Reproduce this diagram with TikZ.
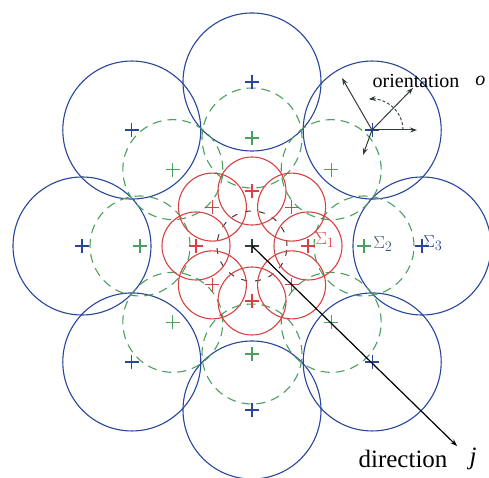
\documentclass[tikz,border=0pt]{standalone}
\usepackage{fontspec}
\setmainfont{Liberation Serif}
\usepackage{amsmath}
\usetikzlibrary{arrows.meta, calc, positioning}
\definecolor{sigblue}{RGB}{40,70,155}
\definecolor{siggreen}{RGB}{75,160,95}
\definecolor{sigred}{RGB}{215,65,65}
\definecolor{sigslate}{RGB}{60,85,115}
\definecolor{sigdark}{RGB}{50,60,60}

\begin{document}
\begin{tikzpicture}[x=1pt, y=1pt, >={Stealth[length=7pt, width=5pt]},
  bluering/.style={draw=sigblue, line width=1.1pt},
  greenring/.style={draw=siggreen, line width=1.1pt, dash pattern=on 9pt off 6pt},
  redring/.style={draw=sigred, line width=1.1pt},
  plus/.pic={\draw[line width=1.1pt] (-7,0) -- (7,0) (0,-7) -- (0,7);}]
  \useasboundingbox (-252,-232) rectangle (237,246);
  \coordinate (C) at (0,0);
  \coordinate (O) at (120,116);

  \foreach \a in {0,45,...,315} {
    \draw[bluering] ({170*cos(\a)},{164*sin(\a)}) circle (69pt);
  }
  \foreach \a in {0,45,...,315} {
    \draw[greenring] ({112*cos(\a)},{108*sin(\a)}) circle (50pt);
  }
  \draw[sigdark, line width=1pt, dash pattern=on 6pt off 8pt] (C) circle (35pt);
  \foreach \a in {0,45,...,315} {
    \draw[redring] ({56*cos(\a)},{55*sin(\a)}) circle (34pt);
  }

  \foreach \a in {0,45,...,315} {
    \pic[draw=sigblue] at ({170*cos(\a)},{164*sin(\a)}) {plus};
    \pic[draw=siggreen] at ({112*cos(\a)},{108*sin(\a)}) {plus};
    \pic[draw=sigred] at ({56*cos(\a)},{55*sin(\a)}) {plus};
  }
  \pic[draw=sigdark] at (C) {plus};

  \node[sigred, font=\fontsize{19}{22}\selectfont] (s1) at (73,6) {$\Sigma_1$};
  \node[sigslate, font=\fontsize{19}{22}\selectfont] (s2) at (131,2) {$\Sigma_2$};
  \node[sigblue, font=\fontsize{19}{22}\selectfont] (s3) at (181,3) {$\Sigma_3$};

  \coordinate (o1) at (165,116);
  \coordinate (o2) at (161,158);
  \coordinate (o3) at (90,168);
  \coordinate (o4) at (111,91);
  \draw[->, sigdark, line width=1pt] (O) -- (o1);
  \draw[->, sigdark, line width=1pt] (O) -- (o2);
  \draw[->, sigdark, line width=1pt] (O) -- (o3);
  \draw[->, sigdark, line width=1pt] (O) -- (o4);
  \draw[->, sigdark, line width=0.9pt, dash pattern=on 3pt off 2pt] ($(O)+(31,0)$) arc (0:96:31pt);

  \node[font=\fontsize{20}{24}\selectfont] (orient) at (164,165) {orientation};
  \node[font=\fontsize{20}{24}\selectfont, right=9pt of orient] (olbl) {\textit{o}};

  \coordinate (dirEnd) at (205,-200);
  \draw[->, black, line width=1.2pt] (C) -- (dirEnd);
  \node[font=\fontsize{25}{30}\selectfont] (dirlbl) at (151,-213) {direction};
  \node[font=\fontsize{25}{30}\selectfont, right=15pt of dirlbl] (jlbl) {\textit{j}};
\end{tikzpicture}
\end{document}
